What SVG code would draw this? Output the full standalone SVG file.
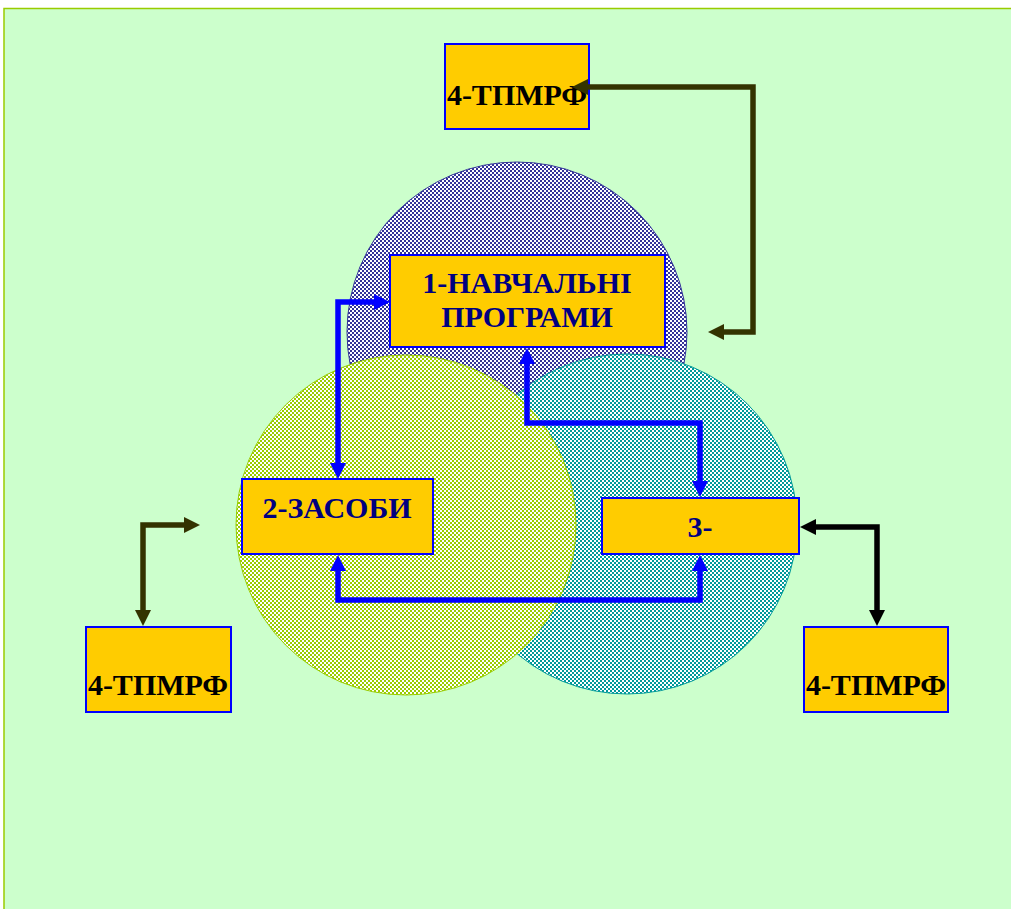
<svg xmlns="http://www.w3.org/2000/svg" width="1011" height="909" viewBox="0 0 1011 909">
<defs>
<pattern id="pBlue" patternUnits="userSpaceOnUse" width="4" height="4"><rect width="4" height="4" fill="#ffffff"/><rect width="2" height="2" fill="#333399"/><rect x="2" y="2" width="2" height="2" fill="#333399"/></pattern>
<pattern id="pTeal" patternUnits="userSpaceOnUse" width="4" height="4"><rect width="4" height="4" fill="#ffffff"/><rect width="2" height="2" fill="#009999"/><rect x="2" y="2" width="2" height="2" fill="#009999"/></pattern>
<pattern id="pGreen" patternUnits="userSpaceOnUse" width="4" height="4"><rect width="4" height="4" fill="#ffffff"/><rect width="2" height="2" fill="#99cc00"/><rect x="2" y="2" width="2" height="2" fill="#99cc00"/></pattern>
<marker id="aBlue" markerUnits="userSpaceOnUse" viewBox="0 0 16 16" markerWidth="16" markerHeight="16" refX="10" refY="8" orient="auto-start-reverse"><path d="M0,0 L16,8 L0,16 z" fill="#0000ff"/></marker>
<marker id="aOlive" markerUnits="userSpaceOnUse" viewBox="0 0 16 16" markerWidth="16" markerHeight="16" refX="10" refY="8" orient="auto-start-reverse"><path d="M0,0 L16,8 L0,16 z" fill="#333300"/></marker>
<marker id="aBlack" markerUnits="userSpaceOnUse" viewBox="0 0 16 16" markerWidth="16" markerHeight="16" refX="10" refY="8" orient="auto-start-reverse"><path d="M0,0 L16,8 L0,16 z" fill="#000000"/></marker>
</defs>
<style>
.box{fill:#ffcc00;stroke:#0000ff;stroke-width:2}
.t{font-family:"Liberation Serif","Times New Roman",serif;font-weight:bold;font-size:30px;text-anchor:middle}
.navy{fill:#000080}
.blk{fill:#000000}
.c{fill:none;stroke-width:5.5}
.cb{stroke:#0000ff;marker-start:url(#aBlue);marker-end:url(#aBlue)}
.co{stroke:#333300;marker-start:url(#aOlive);marker-end:url(#aOlive)}
.ck{stroke:#000000;marker-start:url(#aBlack);marker-end:url(#aBlack)}
</style>
<rect x="4" y="8.5" width="1020" height="910" fill="#ccffcc" stroke="#99cc00" stroke-width="1.5"/>
<g id="circles">
<circle cx="517" cy="332" r="170" fill="url(#pBlue)" stroke="#333399" stroke-width="1"/>
<circle cx="627" cy="524" r="170" fill="url(#pTeal)" stroke="#009999" stroke-width="1"/>
<circle cx="406" cy="525" r="170" fill="url(#pGreen)" stroke="#99cc00" stroke-width="1"/>
</g>
<g id="node-top4">
<rect class="box" x="445" y="44" width="144" height="85"/>
<text class="t blk" x="517" y="105">4-ТПМРФ</text>
</g>
<g id="node1">
<rect class="box" x="390" y="255" width="275" height="92"/>
<text class="t navy" x="527" y="293">1-НАВЧАЛЬНІ</text>
<text class="t navy" x="527" y="327">ПРОГРАМИ</text>
</g>
<g id="node2">
<rect class="box" x="242" y="479" width="191" height="75"/>
<text class="t navy" x="337" y="518">2-ЗАСОБИ</text>
</g>
<g id="node3">
<rect class="box" x="602" y="498" width="197" height="56"/>
<text class="t navy" x="700" y="537">3-</text>
</g>
<g id="node-left4">
<rect class="box" x="86" y="627" width="145" height="85"/>
<text class="t blk" x="158" y="695">4-ТПМРФ</text>
</g>
<g id="node-right4">
<rect class="box" x="804" y="627" width="144" height="85"/>
<text class="t blk" x="876" y="695">4-ТПМРФ</text>
</g>
<g id="connectors">
<path class="c cb" d="M384 302 H338 V473"/>
<path class="c cb" d="M527 354 V423 H700 V491"/>
<path class="c cb" d="M338 561 V600 H700 V561"/>
<path class="c co" d="M578 87 H753 V332 H714"/>
<path class="c co" d="M143 620 V525 H194"/>
<path class="c ck" d="M806 527 H877 V620"/>
</g>
</svg>
